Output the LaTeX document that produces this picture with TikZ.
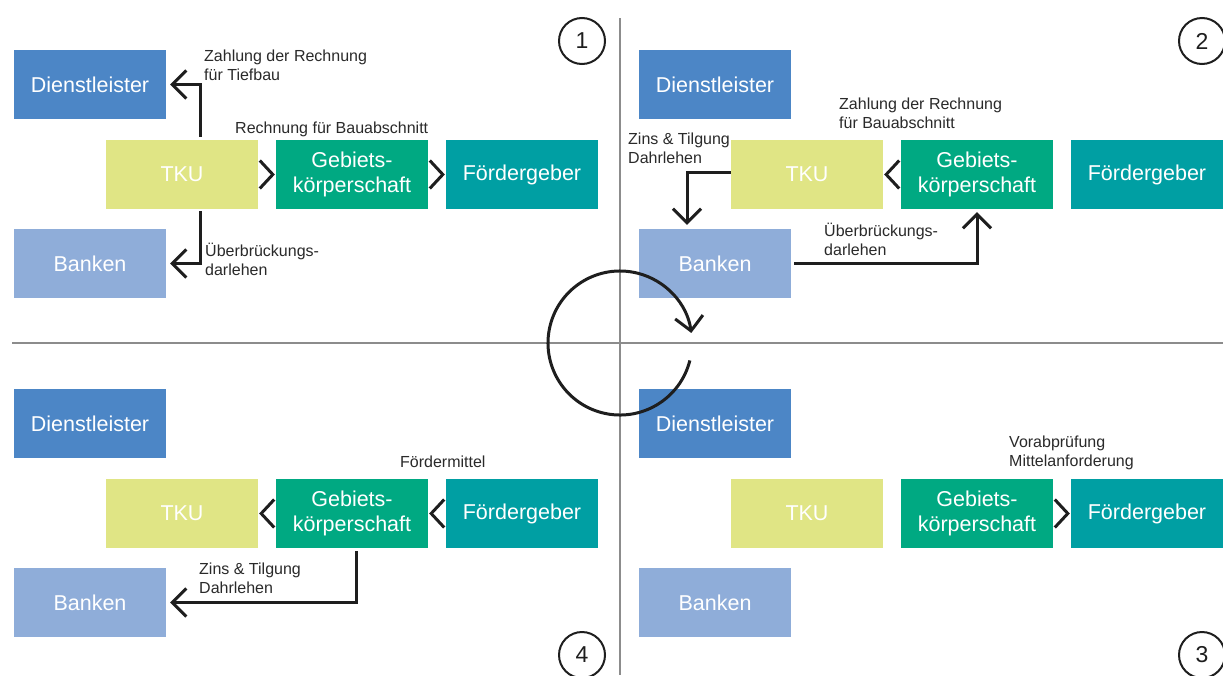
\documentclass[tikz,border=0pt]{standalone}
\usepackage{fontspec}
\setmainfont{Liberation Sans}
\usetikzlibrary{arrows.meta}
\definecolor{cDL}{HTML}{4C86C6}
\definecolor{cBK}{HTML}{8FADD9}
\definecolor{cTKU}{HTML}{E0E585}
\definecolor{cGEB}{HTML}{00A982}
\definecolor{cFG}{HTML}{009FA3}
\definecolor{cAx}{HTML}{8C8C8C}
\definecolor{cInk}{HTML}{1E1E1E}
\definecolor{cTxt}{HTML}{2A2A2A}
\begin{document}
\begin{tikzpicture}[x=1pt,y=-1pt,
  box/.style={minimum width=152pt,minimum height=69pt,inner sep=0pt,text=white,font=\fontsize{21.5}{25}\selectfont,align=center},
  lbl/.style={inner sep=0pt,text=cTxt,font=\fontsize{16}{19}\selectfont,align=left,anchor=base west},
  conn/.style={draw=cInk,line width=3pt,-{Straight Barb[length=14pt,width=28pt]}},
  chev/.style={draw=cInk,line width=3pt},
  ax/.style={draw=cAx,line width=2.2pt},
  numc/.style={circle,draw=cInk,line width=2pt,minimum size=46pt,inner sep=0pt,font=\fontsize{23}{23}\selectfont,text=cInk}
]
\useasboundingbox (0,0) rectangle (1223,675);
\fill[white] (0,0) rectangle (1223,675);
% axes
\coordinate (vtop) at (620,18);
\coordinate (vbot) at (620,675);
\coordinate (hl) at (12,343);
\coordinate (hr) at (1223,343);
\draw[ax] (vtop) -- (vbot);
\draw[ax] (hl) -- (hr);

% Quadrant 1
\node[box,fill=cDL] (dl1) at (90,84.5) {Dienstleister};
\node[box,fill=cTKU] (tku1) at (182,174.5) {TKU};
\node[box,fill=cGEB] (geb1) at (352,174.5) {Gebiets-\\körperschaft};
\node[box,fill=cFG] (fg1) at (522,174.5) {Fördergeber};
\node[box,fill=cBK] (bk1) at (90,263.5) {Banken};
% Quadrant 2
\node[box,fill=cDL] (dl2) at (715,84.5) {Dienstleister};
\node[box,fill=cTKU] (tku2) at (807,174.5) {TKU};
\node[box,fill=cGEB] (geb2) at (977,174.5) {Gebiets-\\körperschaft};
\node[box,fill=cFG] (fg2) at (1147,174.5) {Fördergeber};
\node[box,fill=cBK] (bk2) at (715,263.5) {Banken};
% Quadrant 4
\node[box,fill=cDL] (dl4) at (90,423.5) {Dienstleister};
\node[box,fill=cTKU] (tku4) at (182,513.5) {TKU};
\node[box,fill=cGEB] (geb4) at (352,513.5) {Gebiets-\\körperschaft};
\node[box,fill=cFG] (fg4) at (522,513.5) {Fördergeber};
\node[box,fill=cBK] (bk4) at (90,602.5) {Banken};
% Quadrant 3
\node[box,fill=cDL] (dl3) at (715,423.5) {Dienstleister};
\node[box,fill=cTKU] (tku3) at (807,513.5) {TKU};
\node[box,fill=cGEB] (geb3) at (977,513.5) {Gebiets-\\körperschaft};
\node[box,fill=cFG] (fg3) at (1147,513.5) {Fördergeber};
\node[box,fill=cBK] (bk3) at (715,602.5) {Banken};

% Q1 connectors
\draw[conn,shorten <=3pt,shorten >=4pt] ([xshift=18pt]tku1.north) |- (dl1.east);
\draw[conn,shorten <=2pt,shorten >=4pt] ([xshift=18pt]tku1.south) |- (bk1.east);
\draw[chev] ([xshift=-16pt,yshift=14pt]geb1.west) -- ([xshift=-3pt]geb1.west) -- ([xshift=-16pt,yshift=-14pt]geb1.west);
\draw[chev] ([xshift=-16pt,yshift=14pt]fg1.west) -- ([xshift=-3pt]fg1.west) -- ([xshift=-16pt,yshift=-14pt]fg1.west);
% Q2 connectors
\draw[chev] ([xshift=16pt,yshift=14pt]tku2.east) -- ([xshift=3pt]tku2.east) -- ([xshift=16pt,yshift=-14pt]tku2.east);
\draw[conn,shorten >=4pt] ([yshift=2.5pt]tku2.west) -| ([xshift=-28pt]bk2.north);
\draw[conn,shorten <=3pt,shorten >=3pt] (bk2.east) -| (geb2.south);
% Q4 connectors
\draw[chev] ([xshift=16pt,yshift=14pt]tku4.east) -- ([xshift=3pt]tku4.east) -- ([xshift=16pt,yshift=-14pt]tku4.east);
\draw[chev] ([xshift=16pt,yshift=14pt]geb4.east) -- ([xshift=3pt]geb4.east) -- ([xshift=16pt,yshift=-14pt]geb4.east);
\draw[conn,shorten <=3pt,shorten >=4pt] ([xshift=4pt]geb4.south) |- (bk4.east);
% Q3 connectors
\draw[chev] ([xshift=-16pt,yshift=14pt]fg3.west) -- ([xshift=-3pt]fg3.west) -- ([xshift=-16pt,yshift=-14pt]fg3.west);

% labels (anchor = baseline of last line)
\node[lbl] (l1a) at (204,80) {Zahlung der Rechnung\\für Tiefbau};
\node[lbl] (l1b) at (235,133) {Rechnung für Bauabschnitt};
\node[lbl] (l1c) at (205,275) {Überbrückungs-\\darlehen};
\node[lbl] (l2a) at (839,128) {Zahlung der Rechnung\\für Bauabschnitt};
\node[lbl] (l2b) at (628,163) {Zins \& Tilgung\\Dahrlehen};
\node[lbl] (l2c) at (824,255) {Überbrückungs-\\darlehen};
\node[lbl] (l4a) at (400,467) {Fördermittel};
\node[lbl] (l4b) at (199,593) {Zins \& Tilgung\\Dahrlehen};
\node[lbl] (l3a) at (1009,466) {Vorabprüfung\\Mittelanforderung};

% numbers
\node[numc] (n1) at (582,41) {1};
\node[numc] (n2) at (1202,41) {2};
\node[numc] (n3) at (1202,655) {3};
\node[numc] (n4) at (582,655) {4};

% cycle arrow
\coordinate (cc) at (620,343);
\draw[conn] ([shift={(14:72)}]cc) arc[start angle=14,end angle=352,radius=72];
\end{tikzpicture}
\end{document}
